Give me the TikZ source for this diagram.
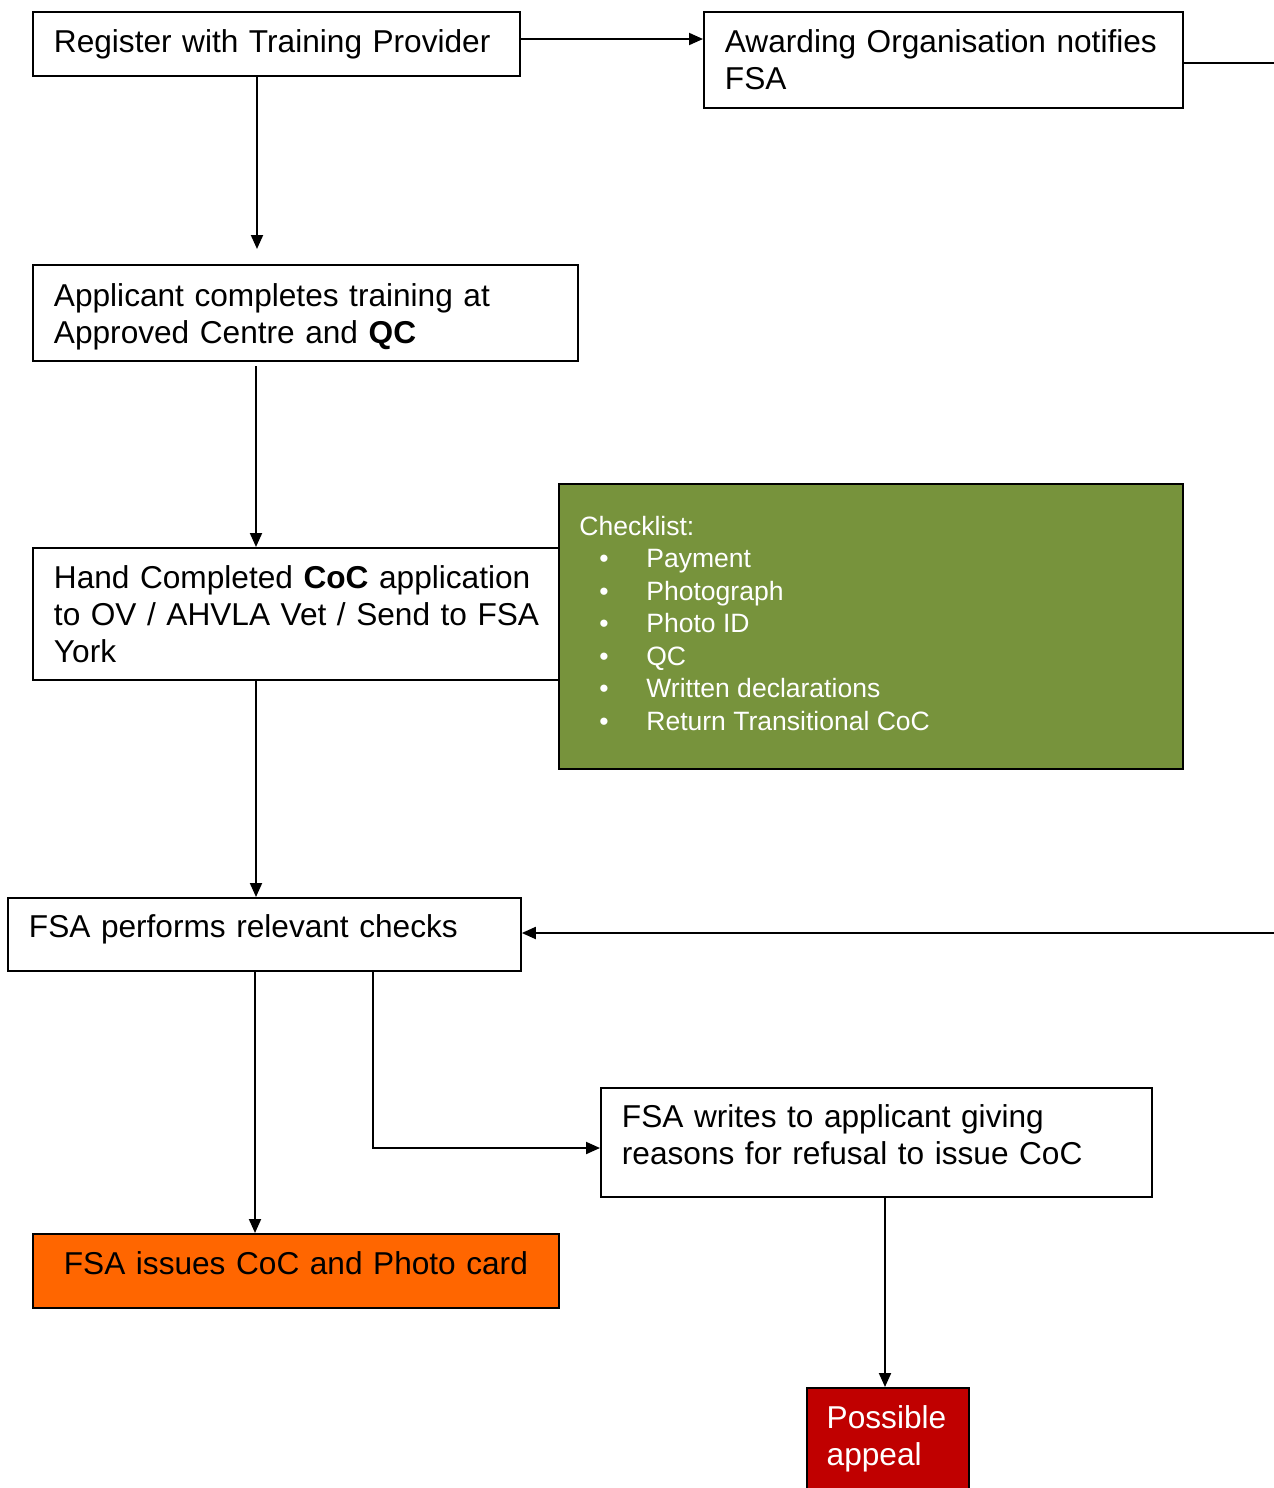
\documentclass[tikz,border=0pt]{standalone}
\usepackage{fontspec}
\setmainfont{Liberation Sans}
\usetikzlibrary{arrows.meta}
\definecolor{chkgreen}{HTML}{77933C}
\definecolor{issueorange}{HTML}{FF6600}
\definecolor{appealred}{HTML}{C00000}
\newcommand{\extradepth}[1]{\rule[-#1]{0pt}{0pt}}
\newcommand{\extraheight}[1]{\rule{0pt}{#1}}
\begin{document}
\begin{tikzpicture}[x=0.02cm, y=-0.02cm,
  every node/.style={font=\fontsize{18pt}{21pt}\selectfont},
  flowbox/.style={draw=black, line width=1.1pt, anchor=north west, align=left, inner xsep=0.42cm, inner ysep=0pt},
  conn/.style={line width=1.1pt},
  arr/.style={conn, -{Triangle[length=0.28cm, width=0.24cm]}},
  chktext/.style={font=\fontsize{15.1pt}{18.5pt}\selectfont, text=white, inner sep=0pt}
]
\useasboundingbox (0,0) rectangle (1274,1488);
\clip (0,0) rectangle (1274,1488);

% boxes
\node[flowbox, minimum width=9.74cm, minimum height=1.28cm, text width=8.9cm] (reg) at (32,11) {\mbox{Register with Training Provider}};
\node[flowbox, minimum width=9.58cm, minimum height=1.92cm, text width=8.74cm] (award) at (703,11) {\mbox{Awarding Organisation notifies}\\FSA};
\node[flowbox, minimum width=10.9cm, minimum height=1.92cm, text width=10.06cm] (appl) at (32,264) {\extraheight{0.63cm}\mbox{Applicant completes training at}\\\mbox{Approved Centre and \textbf{QC}}};
\node[flowbox, minimum width=10.52cm, minimum height=2.64cm, text width=9.68cm] (hand) at (32,547) {\mbox{Hand Completed \textbf{CoC} application}\\\mbox{to OV / AHVLA Vet / Send to FSA}\\York};
\node[draw=black, line width=1.1pt, fill=chkgreen, anchor=north west, minimum width=12.48cm, minimum height=5.7cm, inner sep=0pt] (chk) at (558,483) {};
\node[chktext, anchor=base west] (chkhead) at (579,535) {Checklist:};
\foreach \txt/\yy [count=\i] in {Payment/567, Photograph/600, Photo ID/632, QC/665, Written declarations/697, Return Transitional CoC/730} {
  \node[chktext, anchor=base] (bul\i) at (604,\yy) {\textbullet};
  \node[chktext, anchor=base west] (item\i) at (646,\yy) {\txt};
}
\node[flowbox, minimum width=10.26cm, minimum height=1.46cm, text width=9.42cm] (perf) at (7,897) {\mbox{FSA performs relevant checks}\extradepth{0.32cm}};
\node[flowbox, minimum width=11.02cm, minimum height=2.18cm, text width=10.18cm] (writes) at (600,1087) {\mbox{FSA writes to applicant giving}\\\mbox{reasons for refusal to issue CoC}\extradepth{0.32cm}};
\node[flowbox, fill=issueorange, minimum width=10.52cm, minimum height=1.48cm, text width=9.68cm, align=center] (issues) at (32,1233) {\mbox{FSA issues CoC and Photo card}\extradepth{0.32cm}};
\node[flowbox, fill=appealred, text=white, inner xsep=0.395cm, minimum width=3.24cm, minimum height=2.04cm, text width=2.45cm] (appeal) at (806,1387) {Possible\\appeal};

% helper coordinates
\coordinate (y39) at (0,39);
\coordinate (y63) at (0,63);
\coordinate (y933) at (0,933);
\coordinate (y1148) at (0,1148);
\coordinate (x257) at (257,0);
\coordinate (x256) at (256,0);
\coordinate (x255) at (255,0);
\coordinate (x373) at (373,0);
\coordinate (x885) at (885,0);
\coordinate (regend) at (257,249);
\coordinate (applstart) at (256,366);
\coordinate (offright) at (1300,63);
\coordinate (offright2) at (1300,933);

% connectors
\draw[arr] (reg.east |- y39) -- (award.west |- y39);
\draw[arr] (award.east |- y63) -- (offright) -- (offright2) -- (perf.east |- y933);
\draw[arr] (x257 |- reg.south) -- (regend);
\draw[arr] (applstart) -- (x256 |- hand.north);
\draw[arr] (x256 |- hand.south) -- (x256 |- perf.north);
\draw[arr] (x255 |- perf.south) -- (x255 |- issues.north);
\draw[arr] (x373 |- perf.south) |- (writes.west |- y1148);
\draw[arr] (x885 |- writes.south) -- (x885 |- appeal.north);
\end{tikzpicture}
\end{document}
